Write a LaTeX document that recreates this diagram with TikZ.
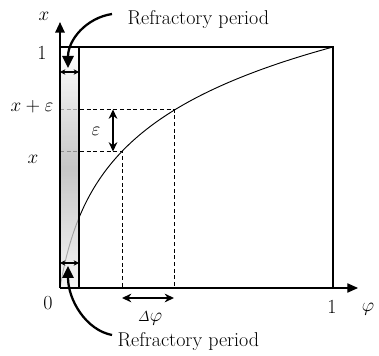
\documentclass[tikz,border=0pt]{standalone}
\usetikzlibrary{arrows.meta}
\begin{document}
\begin{tikzpicture}[x=0.75pt,y=-0.75pt,
  lbl/.style={font=\fontsize{15}{17}\selectfont, inner sep=1pt},
  dbl/.style={line width=1.4pt, {Stealth[length=7pt,width=6.5pt]}-{Stealth[length=7pt,width=6.5pt]}},
  smalldbl/.style={line width=1.1pt, {Stealth[length=4pt,width=4pt]}-{Stealth[length=4pt,width=4pt]}},
  bendarrow/.style={line width=1.7pt, -{Triangle[length=9pt,width=8.5pt]}},
  guide/.style={line width=0.6pt, dash pattern=on 3pt off 2pt}]
\useasboundingbox (0,0) rectangle (379,356);
% key points
\coordinate (O) at (60,288);
\coordinate (Ytop) at (60,22);
\coordinate (Xend) at (358,288);
\coordinate (TL) at (60,47);
\coordinate (TR) at (333,47);
\coordinate (BR) at (333,288);
\coordinate (SB) at (79,288);
\coordinate (ST) at (79,47);
\coordinate (A1) at (174,109.5);
\coordinate (A0) at (122,151.5);
% curve
\draw[line width=0.7pt] plot[domain=0:1, samples=120, smooth] ({60+273*\x}, {288-241*ln(1+21*\x)/ln(22)});
% dashed guides
\draw[guide] (60,109.5) -- (A1) -- (174,288);
\draw[guide] (60,151.5) -- (A0) -- (122,288);
% strip
\shade[top color=white, bottom color=white!95!black, middle color=black!30, fill opacity=0.75] (TL) rectangle (SB);
\draw[line width=0.8pt] (ST) -- (SB);
% box and axes
\draw[line width=1pt] (TL) -- (TR) -- (BR);
\draw[line width=0.8pt, -{Triangle[length=8pt,width=7pt]}] (O) -- (Xend);
\draw[line width=1.5pt, -{Triangle[length=8pt,width=7pt]}] (O) -- (Ytop);
% refractory width arrows
\coordinate (t1) at (60,72); \coordinate (t2) at (79,72);
\coordinate (b1) at (60,263); \coordinate (b2) at (79,263);
\draw[smalldbl] (t1) -- (t2);
\draw[smalldbl] (b1) -- (b2);
% epsilon arrow
\coordinate (e1) at (113,109.5); \coordinate (e2) at (113,151.5);
\draw[dbl] (e1) -- (e2);
\node[lbl] (eps) at (96,131) {$\varepsilon$};
% delta phi arrow
\coordinate (d1) at (122,298); \coordinate (d2) at (174,298);
\draw[dbl] (d1) -- (d2);
\node[lbl] (dphi) at (150,318) {${\scriptstyle\mathit{\Delta}}\varphi$};
% labels
\node[lbl] (xl) at (44,16) {$x$};
\node[lbl] (one) at (42,53) {1};
\node[lbl] (xe) at (32,107) {$x+\varepsilon$};
\node[lbl] (xx) at (33,159) {$x$};
\node[lbl] (zero) at (48,303) {0};
\node[lbl] (onex) at (332,307) {1};
\node[lbl] (phi) at (368,309) {$\varphi$};
% refractory labels and arrows
\node[lbl, anchor=west] (rt) at (126,20) {Refractory period};
\node[lbl, anchor=west] (rb) at (116,342) {Refractory period};
\coordinate (rts) at (112,14);
\coordinate (rbs) at (112,335);
\coordinate (rtt) at (68,68);
\coordinate (rbt) at (68,266);
\draw[bendarrow] (rts) .. controls (86,18) and (68,40) .. (rtt);
\draw[bendarrow] (rbs) .. controls (86,330) and (68,300) .. (rbt);
\end{tikzpicture}
\end{document}
